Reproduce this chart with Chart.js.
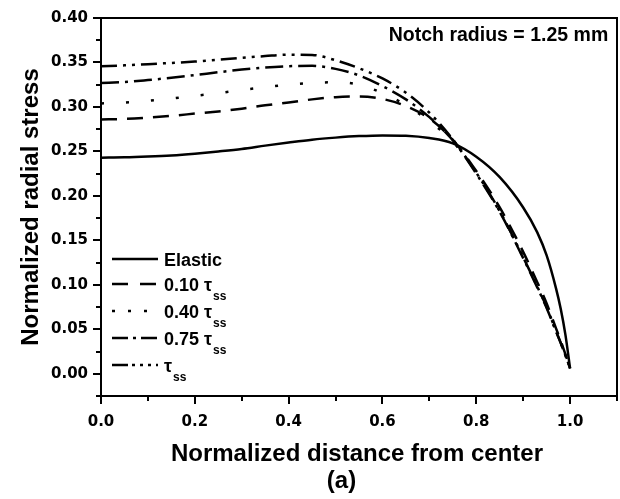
<!DOCTYPE html>
<html><head><meta charset="utf-8">
<script src="https://cdn.jsdelivr.net/npm/chart.js@4/dist/chart.umd.min.js"></script>
<style>html,body{margin:0;padding:0;background:#fff}</style>
</head><body>
<canvas id="c" width="620" height="499"></canvas>
<script>
// ---- data ----
const xValues      = [0, 0.05, 0.1, 0.15, 0.2, 0.25, 0.3, 0.35, 0.4, 0.45, 0.5, 0.55, 0.6, 0.65, 0.7, 0.75, 0.8, 0.85, 0.9, 0.93, 0.95, 0.97, 0.98, 0.99, 1.0];
const elastic      = [0.243, 0.2433, 0.2442, 0.2455, 0.2475, 0.2500, 0.2528, 0.2565, 0.2600, 0.2632, 0.2655, 0.2672, 0.2680, 0.2676, 0.2650, 0.2590, 0.2440, 0.2210, 0.1870, 0.1590, 0.1330, 0.0960, 0.0730, 0.0440, 0.006];
const tau010       = [0.286, 0.2865, 0.2880, 0.2900, 0.2925, 0.2950, 0.2980, 0.3018, 0.3050, 0.3085, 0.3110, 0.3118, 0.3090, 0.3010, 0.2870, 0.2630, 0.2280, 0.1870, 0.1370, 0.1030, 0.0790, 0.0510, 0.0370, 0.0220, 0.006];
const tau040       = [0.304, 0.3050, 0.3070, 0.3095, 0.3125, 0.3155, 0.3190, 0.3222, 0.3250, 0.3270, 0.3278, 0.3250, 0.3155, 0.3020, 0.2840, 0.2610, 0.2260, 0.1830, 0.1310, 0.0980, 0.0750, 0.0480, 0.0350, 0.0210, 0.006];
const tau075       = [0.327, 0.3280, 0.3302, 0.3328, 0.3358, 0.3390, 0.3420, 0.3443, 0.3458, 0.3462, 0.3428, 0.3355, 0.3235, 0.3085, 0.2885, 0.2625, 0.2250, 0.1820, 0.1300, 0.0970, 0.0740, 0.0475, 0.0345, 0.0205, 0.006];
const tauSS        = [0.3457, 0.3468, 0.3480, 0.3495, 0.3510, 0.3530, 0.3552, 0.3572, 0.3588, 0.3585, 0.3525, 0.3435, 0.3320, 0.3160, 0.2935, 0.2635, 0.2260, 0.1830, 0.1310, 0.0980, 0.0750, 0.0480, 0.0350, 0.0210, 0.006];
const legendText   = ['Elastic', '0.10 τ', '0.40 τ', '0.75 τ', 'τ'];
const legendSub    = ['', 'ss', 'ss', 'ss', 'ss'];
const xTickLabels  = ['0.0', '0.2', '0.4', '0.6', '0.8', '1.0'];
const yTickLabels  = ['0.00', '0.05', '0.10', '0.15', '0.20', '0.25', '0.30', '0.35', '0.40'];
const xTitle = 'Normalized distance from center';
const yTitle = 'Normalized radial stress';
const panelLabel = '(a)';
const noteText = 'Notch radius = 1.25 mm';

// ---- styles ----
const series = [elastic, tau010, tau040, tau075, tauSS];
const dashes = [[], [16, 10], [3, 22], [18, 6, 3, 6], [16, 6, 3, 6, 3, 6]];
const legendDashes = [[], [16, 12], [3, 13], [16, 5, 3, 5], [16, 4, 3, 5, 3, 5, 3, 5]];
const legendRowsY = [259, 284, 311, 338, 365];

const datasets = series.map((vals, i) => ({
  label: legendText[i] + legendSub[i],
  data: xValues.map((xv, k) => ({x: xv, y: vals[k]})),
  borderColor: '#000',
  borderWidth: 2.5,
  borderDash: dashes[i],
  borderCapStyle: 'butt',
  pointRadius: 0,
  fill: false,
  cubicInterpolationMode: 'monotone'
}));

const tickFont = {family: 'DejaVu Sans', weight: 'bold', size: 15};

const overlay = {
  id: 'overlay',
  afterDraw(chart) {
    const {ctx, chartArea: a, scales: {x, y}} = chart;
    ctx.save();
    ctx.strokeStyle = '#000';
    ctx.fillStyle = '#000';
    ctx.lineWidth = 2;
    // top and right frame
    ctx.beginPath();
    ctx.moveTo(a.left - 1, a.top);
    ctx.lineTo(a.right, a.top);
    ctx.lineTo(a.right, a.bottom + 1);
    ctx.stroke();
    // minor ticks
    ctx.beginPath();
    for (let v = 0.1; v <= 1.1001; v += 0.2) {
      const px = Math.round(x.getPixelForValue(v));
      ctx.moveTo(px, a.bottom); ctx.lineTo(px, a.bottom + 5);
    }
    for (let v = -0.025; v <= 0.4; v += 0.05) {
      const py = Math.round(y.getPixelForValue(v));
      ctx.moveTo(a.left, py); ctx.lineTo(a.left - 5, py);
    }
    ctx.stroke();

    // legend
    const lx0 = a.left + 11, lx1 = a.left + 57, tx = a.left + 63;
    chart.data.datasets.forEach((ds, i) => {
      const yy = legendRowsY[i];
      ctx.save();
      ctx.lineWidth = 2.5;
      ctx.lineCap = 'butt';
      ctx.setLineDash(legendDashes[i]);
      ctx.beginPath(); ctx.moveTo(lx0, yy); ctx.lineTo(lx1, yy); ctx.stroke();
      ctx.restore();
      ctx.textBaseline = 'alphabetic';
      ctx.textAlign = 'left';
      ctx.font = 'bold 18px "Liberation Sans", Arial, sans-serif';
      const base = yy + 6.5;
      ctx.fillText(legendText[i], tx, base);
      if (legendSub[i]) {
        const w = ctx.measureText(legendText[i]).width;
        ctx.font = 'bold 12px "Liberation Sans", Arial, sans-serif';
        ctx.fillText(legendSub[i], tx + w + 1, base + 9.5);
      }
    });

    // annotation
    ctx.font = 'bold 19.5px "Liberation Sans", Arial, sans-serif';
    ctx.textAlign = 'center';
    ctx.textBaseline = 'alphabetic';
    ctx.fillText(noteText, 498.5, 41);

    // axis titles
    ctx.font = 'bold 24px "Liberation Sans", Arial, sans-serif';
    ctx.fillText(xTitle, (a.left + a.right) / 2 - 2, 461);
    ctx.fillText(panelLabel, 341.5, 488);
    ctx.save();
    ctx.translate(38, (a.top + a.bottom) / 2);
    ctx.rotate(-Math.PI / 2);
    ctx.fillText(yTitle, 0, 0);
    ctx.restore();
    ctx.restore();
  }
};

function keepMultiples(step) {
  return s => {
    s.ticks = s.ticks.filter(t => Math.abs(t.value / step - Math.round(t.value / step)) < 1e-6);
  };
}

new Chart(document.getElementById('c'), {
  type: 'line',
  data: {datasets},
  options: {
    responsive: false,
    animation: false,
    devicePixelRatio: 1,
    layout: {padding: {top: 18, right: 3, left: 0, bottom: 0}},
    plugins: {legend: {display: false}, tooltip: {enabled: false}},
    scales: {
      x: {
        type: 'linear', min: 0, max: 1.1,
        ticks: {stepSize: 0.2, font: tickFont, color: '#000', padding: 9, maxRotation: 0,
                callback: (v) => xTickLabels[Math.round(v / 0.2)] ?? ''},
        afterBuildTicks: keepMultiples(0.2),
        grid: {drawOnChartArea: false, drawTicks: true, tickLength: 8, lineWidth: 2, color: '#000'},
        border: {display: true, width: 2, color: '#000'},
        afterFit: s => { s.height = 103; }
      },
      y: {
        type: 'linear', min: -0.025, max: 0.4,
        ticks: {stepSize: 0.05, font: tickFont, color: '#000', padding: 5,
                callback: (v) => yTickLabels[Math.round(v / 0.05)] ?? ''},
        afterBuildTicks: keepMultiples(0.05),
        grid: {drawOnChartArea: false, drawTicks: true, tickLength: 8, lineWidth: 2, color: '#000'},
        border: {display: true, width: 2, color: '#000'},
        afterFit: s => { s.width = 101; }
      }
    }
  },
  plugins: [overlay]
});
</script>
</body></html>
